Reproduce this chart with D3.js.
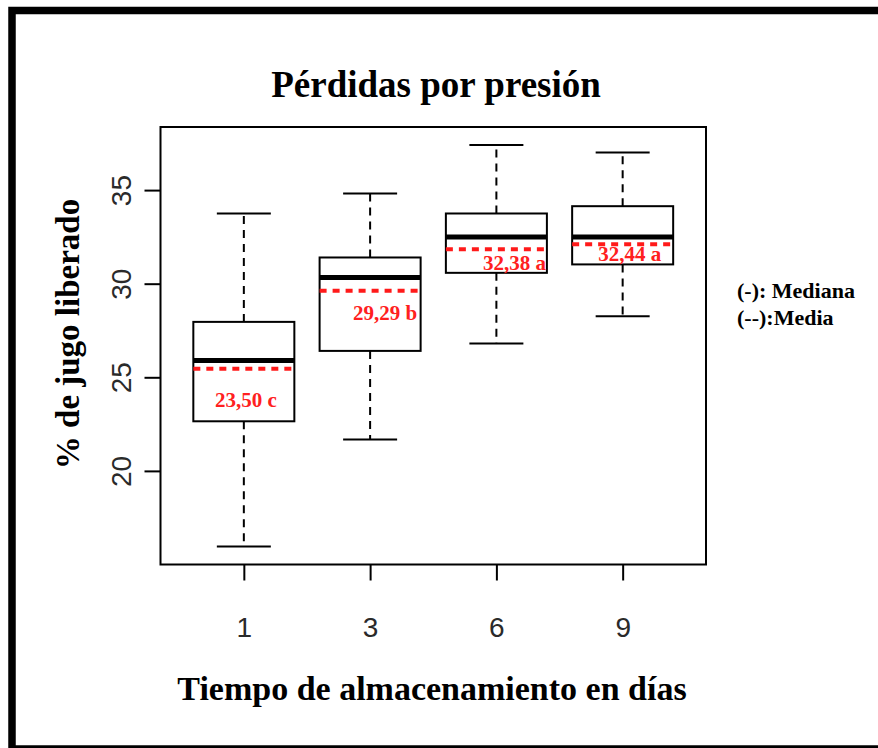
<!DOCTYPE html>
<html>
<head>
<meta charset="utf-8">
<script src="https://cdn.jsdelivr.net/npm/d3@7"></script>
<style>
  body { margin: 0; background: #fff; }
  svg { display: block; }
</style>
</head>
<body>
<svg id="chart"></svg>
<script>
// Data
const days = ["1", "3", "6", "9"];
const whiskerLow = [15.96, 21.68, 26.80, 28.26];
const q1 = [22.65, 26.41, 30.58, 31.03];
const median = [25.90, 30.33, 32.50, 32.50];
const q3 = [27.96, 31.40, 33.75, 34.14];
const whiskerHigh = [33.75, 34.82, 37.41, 37.01];
const meanLine = [25.46, 29.62, 31.84, 32.11];
const meanLabels = ["23,50 c", "29,29 b", "32,38 a", "32,44 a"];
const yTicks = [20, 25, 30, 35];

// label nudges (px) relative to box centre / mean line
const labelDx = [2, 15, 18, 7];
const labelDy = [38, 29, 21, 17];

const width = 878;
const height = 748;
const plot = { left: 160.5, right: 706, top: 127, bottom: 564.5 };
const serif = "'Liberation Serif', 'Times New Roman', serif";
const sans = "'Liberation Sans', Arial, sans-serif";

const svg = d3.select('#chart')
  .attr('width', width)
  .attr('height', height);

// outer frame (right side runs off the picture)
svg.append('rect')
  .attr('x', 12)
  .attr('y', 10.5)
  .attr('width', 900)
  .attr('height', 738.5)
  .attr('fill', 'none')
  .attr('stroke', '#000')
  .attr('stroke-width', 7.5);

const x = d3.scaleLinear()
  .domain([0.34, 4.66])
  .range([plot.left, plot.right]);

const y = d3.scaleLinear()
  .domain([15.0, 38.37])
  .range([plot.bottom, plot.top]);

const boxHalf = x(1.4) - x(1);
const capHalf = 27;

// axes
const yAxis = svg.append('g')
  .attr('transform', `translate(${plot.left},0)`)
  .call(d3.axisLeft(y).tickValues(yTicks).tickSize(16).tickFormat(d3.format('d')));
yAxis.select('.domain').remove();
yAxis.selectAll('.tick line').attr('stroke', '#000').attr('stroke-width', 2);
yAxis.selectAll('.tick text')
  .attr('x', 0).attr('y', 0).attr('dy', 0)
  .attr('transform', 'translate(-30,0) rotate(-90)')
  .attr('text-anchor', 'middle')
  .style('font-family', sans)
  .style('font-size', '28px')
  .style('fill', '#2a2a2a');

const xAxis = svg.append('g')
  .attr('transform', `translate(0,${plot.bottom})`)
  .call(d3.axisBottom(x).tickValues([1, 2, 3, 4]).tickSize(16)
    .tickFormat((d, i) => days[i]));
xAxis.select('.domain').remove();
xAxis.selectAll('.tick line').attr('stroke', '#000').attr('stroke-width', 2);
xAxis.selectAll('.tick text')
  .attr('y', 72).attr('dy', 0)
  .style('font-family', sans)
  .style('font-size', '28px')
  .style('fill', '#2a2a2a');

// plot frame
svg.append('rect')
  .attr('x', plot.left)
  .attr('y', plot.top)
  .attr('width', plot.right - plot.left)
  .attr('height', plot.bottom - plot.top)
  .attr('fill', 'none')
  .attr('stroke', '#000')
  .attr('stroke-width', 2);

const idx = d3.range(days.length);
const boxes = svg.append('g')
  .selectAll('g')
  .data(idx)
  .enter().append('g');

// whiskers
boxes.append('line')
  .attr('x1', i => x(i + 1)).attr('x2', i => x(i + 1))
  .attr('y1', i => y(q3[i])).attr('y2', i => y(whiskerHigh[i]))
  .attr('stroke', '#000').attr('stroke-width', 2).attr('stroke-dasharray', '8,6');
boxes.append('line')
  .attr('x1', i => x(i + 1)).attr('x2', i => x(i + 1))
  .attr('y1', i => y(q1[i])).attr('y2', i => y(whiskerLow[i]))
  .attr('stroke', '#000').attr('stroke-width', 2).attr('stroke-dasharray', '8,6');

// caps
[whiskerHigh, whiskerLow].forEach(arr => {
  boxes.append('line')
    .attr('x1', i => x(i + 1) - capHalf).attr('x2', i => x(i + 1) + capHalf)
    .attr('y1', i => y(arr[i])).attr('y2', i => y(arr[i]))
    .attr('stroke', '#000').attr('stroke-width', 2);
});

// boxes
boxes.append('rect')
  .attr('x', i => x(i + 1) - boxHalf)
  .attr('y', i => y(q3[i]))
  .attr('width', boxHalf * 2)
  .attr('height', i => y(q1[i]) - y(q3[i]))
  .attr('fill', '#fff')
  .attr('stroke', '#000')
  .attr('stroke-width', 2);

// median
boxes.append('line')
  .attr('x1', i => x(i + 1) - boxHalf).attr('x2', i => x(i + 1) + boxHalf)
  .attr('y1', i => y(median[i])).attr('y2', i => y(median[i]))
  .attr('stroke', '#000').attr('stroke-width', 5);

// mean
boxes.append('line')
  .attr('x1', i => x(i + 1) - boxHalf).attr('x2', i => x(i + 1) + boxHalf)
  .attr('y1', i => y(meanLine[i])).attr('y2', i => y(meanLine[i]))
  .attr('stroke', '#ff1a1a').attr('stroke-width', 4).attr('stroke-dasharray', '7,6');

// mean labels
boxes.append('text')
  .attr('x', i => x(i + 1) + labelDx[i])
  .attr('y', i => y(meanLine[i]) + labelDy[i])
  .attr('text-anchor', 'middle')
  .style('font-family', serif)
  .style('font-weight', 'bold')
  .style('font-size', '21px')
  .style('fill', '#ff2020')
  .text(i => meanLabels[i]);

// titles
svg.append('text')
  .attr('x', 436).attr('y', 97)
  .attr('text-anchor', 'middle')
  .style('font-family', serif).style('font-weight', 'bold').style('font-size', '37px')
  .text('Pérdidas por presión');

svg.append('text')
  .attr('x', 432).attr('y', 700)
  .attr('text-anchor', 'middle')
  .style('font-family', serif).style('font-weight', 'bold').style('font-size', '34px')
  .text('Tiempo de almacenamiento en días');

svg.append('text')
  .attr('transform', 'translate(79,334) rotate(-90)')
  .attr('text-anchor', 'middle')
  .style('font-family', serif).style('font-weight', 'bold').style('font-size', '33px')
  .text('% de jugo liberado');

// legend
const legend = ['(-): Mediana', '(--):Media'];
svg.append('g')
  .selectAll('text')
  .data(legend)
  .enter().append('text')
  .attr('x', 737)
  .attr('y', (d, i) => 298 + i * 27)
  .style('font-family', serif).style('font-weight', 'bold').style('font-size', '22px')
  .text(d => d);
</script>
</body>
</html>
